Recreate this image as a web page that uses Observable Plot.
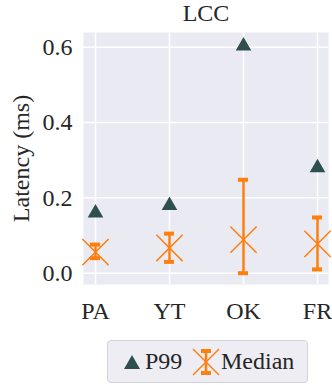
<!DOCTYPE html>
<html>
<head>
<meta charset="utf-8">
<script src="https://cdn.jsdelivr.net/npm/d3@7"></script>
<script src="https://cdn.jsdelivr.net/npm/@observablehq/plot@0.6"></script>
<style>
  html, body { margin: 0; padding: 0; background: white; }
  #wrap { position: relative; width: 332px; height: 385px; font-family: "Liberation Serif", serif; color: #262626; }
  #legend { position: absolute; left: 107px; top: 340px; width: 199px; height: 41px; border: 1px solid #d2d2d8; border-radius: 4px; background: #EDEDF3; box-sizing: content-box; }
  #legend .item { position: absolute; top: 0; height: 41px; line-height: 41px; font-size: 24px; }
  #legend svg { position: absolute; }
</style>
</head>
<body>
<div id="wrap"></div>
<script>
const categories = ["PA", "YT", "OK", "FR"];
const p99 = [0.160, 0.180, 0.603, 0.280];
const median = [0.056, 0.067, 0.089, 0.078];
const lower = [0.040, 0.030, 0.000, 0.010];
const upper = [0.076, 0.105, 0.248, 0.148];
const yTicks = [0, 0.2, 0.4, 0.6];
const title = "LCC";
const yLabel = "Latency (ms)";
const seriesNames = ["P99", "Median"];

const p99Color = "#2F4F4F";
const medColor = "#FF7F0E";
const idx = categories.map((_, i) => i);

const chart = Plot.plot({
  width: 332,
  height: 330,
  marginTop: 32,
  marginLeft: 83,
  marginRight: 4,
  marginBottom: 46,
  style: { fontFamily: "Liberation Serif", fontSize: "24px", color: "#262626", background: "transparent", overflow: "visible" },
  x: { type: "point", domain: categories, padding: 0.145, label: null },
  y: { domain: [-0.030, 0.639], label: null },
  marks: [
    Plot.frame({ fill: "#EAEAF2", stroke: null }),
    Plot.gridX(categories, { stroke: "white", strokeOpacity: 1, strokeWidth: 1.5 }),
    Plot.gridY(yTicks, { stroke: "white", strokeOpacity: 1, strokeWidth: 1.5 }),
    Plot.axisX({ tickSize: 0, tickPadding: 17, fontSize: 24 }),
    Plot.axisY(yTicks, { tickSize: 0, tickPadding: 11, tickFormat: d3.format(".1f"), fontSize: 24, label: null }),
    Plot.text([yLabel], { frameAnchor: "left", dx: -62, rotate: -90, fontSize: 24, lineAnchor: "middle", textAnchor: "middle" }),
    Plot.text([title], { frameAnchor: "top", dy: -19, fontSize: 24, lineAnchor: "middle" }),
    Plot.ruleX(idx, { x: i => categories[i], y1: i => lower[i], y2: i => upper[i], stroke: medColor, strokeWidth: 2.5 }),
    Plot.ruleY(idx, { x1: i => categories[i], x2: i => categories[i], y: i => upper[i], stroke: medColor, strokeWidth: 4, insetLeft: -5, insetRight: -5 }),
    Plot.ruleY(idx, { x1: i => categories[i], x2: i => categories[i], y: i => lower[i], stroke: medColor, strokeWidth: 4, insetLeft: -5, insetRight: -5 }),
    Plot.dot(idx, { x: i => categories[i], y: i => median[i], symbol: "times", r: 12, stroke: medColor, strokeWidth: 1.5 }),
    Plot.dot(idx, { x: i => categories[i], y: i => p99[i], symbol: "triangle", r: 5.8, fill: p99Color, stroke: null })
  ]
});

const wrap = document.getElementById("wrap");
wrap.appendChild(chart);
chart.style.position = "absolute";
chart.style.left = "0px";
chart.style.top = "0px";

const legend = document.createElement("div");
legend.id = "legend";
legend.innerHTML = `
  <svg width="20" height="20" style="left:14px;top:12px"><path d="M10,2 L18,16 L2,16 Z" fill="${p99Color}"/></svg>
  <div class="item" style="left:37px">${seriesNames[0]}</div>
  <svg width="30" height="30" style="left:83px;top:6px">
    <line x1="2" y1="2" x2="28" y2="28" stroke="${medColor}" stroke-width="1.5"/>
    <line x1="28" y1="2" x2="2" y2="28" stroke="${medColor}" stroke-width="1.5"/>
    <line x1="15" y1="4" x2="15" y2="26" stroke="${medColor}" stroke-width="2.5"/>
    <line x1="10" y1="4" x2="20" y2="4" stroke="${medColor}" stroke-width="4"/>
    <line x1="10" y1="26" x2="20" y2="26" stroke="${medColor}" stroke-width="4"/>
  </svg>
  <div class="item" style="left:113px">${seriesNames[1]}</div>
`;
wrap.appendChild(legend);
</script>
</body>
</html>
